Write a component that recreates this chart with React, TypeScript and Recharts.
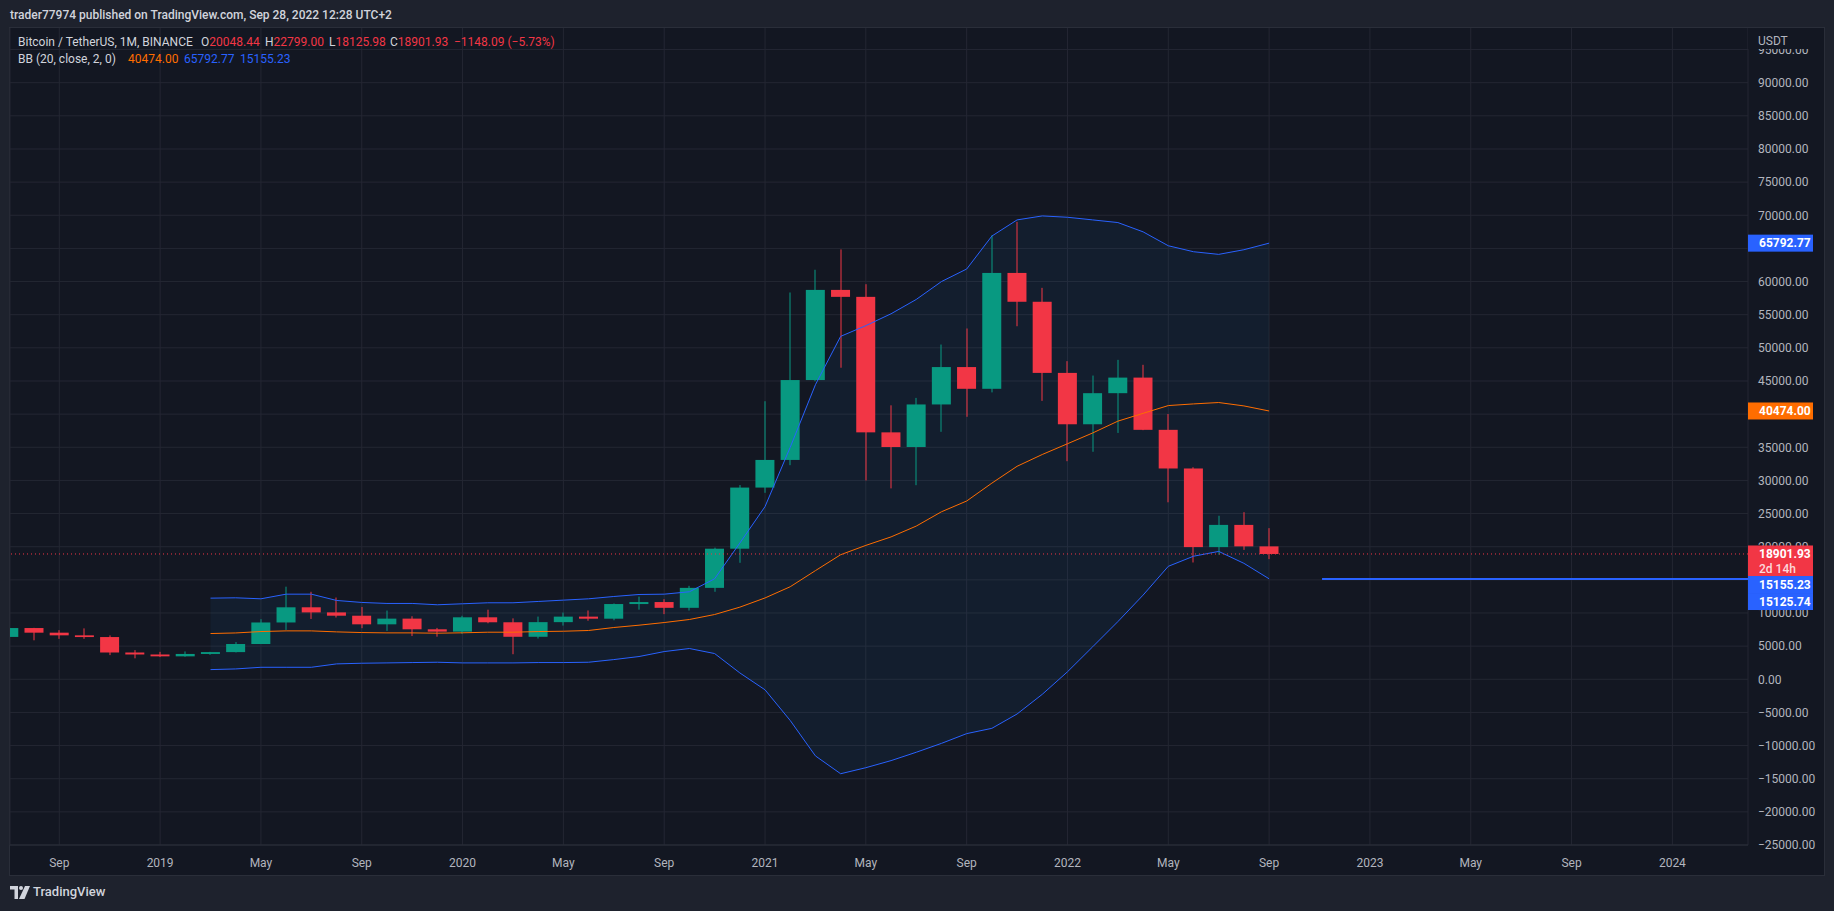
import React from 'react';
import { ComposedChart, Bar, Line, Area, XAxis, YAxis, CartesianGrid, ReferenceLine } from 'recharts';

// monthly BTCUSDT candles, Jul 2018 .. Sep 2022 (index 0 = Jul 2018)
const opens = [
  6390, 7730, 7030, 6630, 6370, 4040, 3740, 3460, 3820, 4100,
  5320, 8570, 10860, 10090, 9590, 8290, 9150, 7540, 7190, 9350,
  8600, 6410, 8620, 9450, 9140, 11350, 11650, 10780, 13790, 19700,
  28920, 33090, 45140, 58740, 57690, 37250, 35040, 41460, 47100, 43820,
  61300, 56950, 46220, 38470, 43160, 45510, 37630, 31800, 19940, 23290,
  20048.44,
];
const highs = [
  8490, 7760, 7410, 7680, 6620, 4400, 4140, 4200, 4140, 5620,
  9070, 13970, 13200, 12330, 10910, 10370, 9510, 7750, 9580, 10500,
  9190, 9460, 10070, 10380, 11440, 12470, 12080, 14100, 19860, 29300,
  41950, 58350, 61780, 64850, 59600, 41330, 42450, 50500, 52920, 67000,
  69000, 59050, 47990, 45820, 48190, 47440, 40020, 31990, 24670, 25210,
  22799.0,
];
const lows = [
  6130, 5880, 6100, 6100, 3650, 3160, 3350, 3400, 3690, 4050,
  5320, 7440, 9100, 9320, 7710, 7300, 6520, 6430, 6850, 8450,
  3780, 6150, 8100, 8830, 8900, 10500, 9830, 10370, 13200, 17570,
  28130, 32300, 44960, 47000, 30000, 28800, 29280, 37330, 39600, 43280,
  53260, 42000, 32900, 34320, 37160, 37580, 26700, 17620, 18780, 19520,
  18125.98,
];
const closes = [
  7730, 7030, 6630, 6370, 4040, 3740, 3460, 3820, 4100, 5320,
  8570, 10860, 10090, 9590, 8290, 9150, 7540, 7190, 9350, 8600,
  6410, 8620, 9450, 9140, 11350, 11650, 10780, 13790, 19700, 28920,
  33090, 45140, 58740, 57690, 37250, 35040, 41460, 47100, 43820, 61300,
  56950, 46220, 38470, 43160, 45510, 37630, 31800, 19940, 23290, 20050,
  18901.93,
];

// BB (20, close, 2, 0), starts at index 8 (Mar 2019)
const bbUpper = [
  null, null, null, null, null, null, null, null, 12240, 12290,
  12140, 12840, 12840, 11890, 11590, 11440, 11440, 11240, 11390, 11540,
  11540, 11740, 11940, 12140, 12490, 12790, 12840, 13200, 15160, 20550,
  26050, 35000, 44440, 51730, 53350, 55140, 57300, 60000, 61890, 66860,
  69300, 69900, 69700, 69300, 68900, 67500, 65400, 64500, 64100, 64800,
  65792.77,
];
const bbBasis = [
  null, null, null, null, null, null, null, null, 6900, 6990,
  7200, 7300, 7300, 7150, 7050, 7000, 7000, 6950, 7010, 7100,
  7100, 7200, 7250, 7360, 7810, 8160, 8560, 9020, 9770, 10880,
  12270, 13960, 16390, 18790, 20200, 21480, 23110, 25270, 26890, 29590,
  32130, 33910, 35530, 37160, 38940, 40120, 41290, 41540, 41750, 41240,
  40474.0,
];
const bbLower = [
  null, null, null, null, null, null, null, null, 1460, 1560,
  1810, 1810, 1810, 2320, 2420, 2470, 2520, 2570, 2470, 2470,
  2470, 2520, 2520, 2570, 2970, 3430, 4180, 4640, 3880, 960,
  -1590, -6220, -11560, -14250, -13340, -12270, -11010, -9670, -8200, -7400,
  -5240, -2270, 1130, 4900, 8700, 12700, 17040, 18560, 19290, 17490,
  15155.23,
];

const xTickIdx = [2, 6, 10, 14, 18, 22, 26, 30, 34, 38, 42, 46, 50, 54, 58, 62, 66];
const xTickLabels = ['Sep', '2019', 'May', 'Sep', '2020', 'May', 'Sep', '2021', 'May', 'Sep', '2022', 'May', 'Sep', '2023', 'May', 'Sep', '2024'];
const yTicks = [
  -25000, -20000, -15000, -10000, -5000, 0, 5000, 10000, 15000, 20000, 25000, 30000,
  35000, 40000, 45000, 50000, 55000, 60000, 65000, 70000, 75000, 80000, 85000, 90000, 95000,
];
// scale labels that sit completely under a price tag
const hiddenTicks = [15000, 40000, 65000];

const lastPrice = 18901.93;
const rayLevel = 15125.74;
const rayStart = 52.1;

// price-scale tags: value, text, second line, colour, vertical nudge (collision)
const tagValues = [65792.77, 40474.0, 18901.93, 15155.23, 15125.74];
const tagTexts = ['65792.77', '40474.00', '18901.93', '15155.23', '15125.74'];
const tagSubs = ['', '', '2d 14h', '', ''];
const tagColors = ['#2962ff', '#ff6d00', '#f23645', '#2962ff', '#2962ff'];
const tagShift = [0, 0, 0, 5.7, 22.5];

const GREEN = '#089981';
const RED = '#f23645';
const BLUE = '#2962ff';
const ORANGE = '#ff6d00';
const TXT = '#b2b5be';
const LEG = '#d1d4dc';

const data = closes.map((c, i) => ({
  i,
  open: opens[i],
  high: highs[i],
  low: lows[i],
  close: c,
  upper: bbUpper[i],
  basis: bbBasis[i],
  lower: bbLower[i],
}));

const fmtPrice = (v: number) => (v < 0 ? '\u2212' + Math.abs(v).toFixed(2) : v.toFixed(2));

const Candle = (props: any) => {
  const { x, y, width, height, payload } = props;
  if (!payload || payload.high == null) return null;
  const { open, close, high, low } = payload;
  const color = close >= open ? GREEN : RED;
  const top0 = Math.min(y, y + height);
  const h = Math.abs(height);
  const k = h / (high - low || 1);
  const bodyTop = top0 + (high - Math.max(open, close)) * k;
  const bodyBot = top0 + (high - Math.min(open, close)) * k;
  const cx = Math.round(x + width / 2);
  return (
    <g>
      <rect x={cx - 0.5} y={top0} width={1} height={h} fill={color} />
      <rect x={x} y={bodyTop} width={width} height={Math.max(1, bodyBot - bodyTop)} fill={color} />
    </g>
  );
};

// price scale ticks; the tag values come last in the tick list so they paint over the labels
const PriceTick = (props: any) => {
  const { x, y, payload, index } = props;
  const v = payload?.value;
  const k = index >= yTicks.length ? tagValues.indexOf(v) : -1;
  if (k < 0) {
    if (hiddenTicks.includes(v)) return null;
    return (
      <text x={x} y={y} dy="0.355em" textAnchor="start" fill={TXT} fontSize={12} fontFamily="Roboto, sans-serif">
        {fmtPrice(v)}
      </text>
    );
  }
  const left = x - 10;
  const cy = y + tagShift[k];
  const sub = tagSubs[k];
  return (
    <g>
      <rect x={left} y={cy - 8.5} width={65} height={sub ? 31 : 17} fill={tagColors[k]} />
      <text x={left + 11} y={cy} dy="0.35em" fill="#ffffff" fontSize={12} fontWeight={700} fontFamily="Roboto, sans-serif">
        {tagTexts[k]}
      </text>
      {sub && (
        <text x={left + 11} y={cy + 14.5} dy="0.35em" fill="rgba(255,255,255,0.82)" fontSize={12} fontWeight={500} fontFamily="Roboto, sans-serif">
          {sub}
        </text>
      )}
    </g>
  );
};

const legendLine1 = [
  { left: 18, size: 12, parts: [{ t: 'Bitcoin / TetherUS, 1M, BINANCE', c: LEG }] },
  { left: 201, size: 12, parts: [{ t: 'O', c: LEG }, { t: '20048.44', c: RED }] },
  { left: 265, size: 12, parts: [{ t: 'H', c: LEG }, { t: '22799.00', c: RED }] },
  { left: 329, size: 12, parts: [{ t: 'L', c: LEG }, { t: '18125.98', c: RED }] },
  { left: 390, size: 12, parts: [{ t: 'C', c: LEG }, { t: '18901.93', c: RED }] },
  { left: 454, size: 12, parts: [{ t: '\u22121148.09 (\u22125.73%)', c: RED }] },
];
const legendLine2 = [
  { left: 18, size: 12, parts: [{ t: 'BB (20, close, 2, 0)', c: LEG }] },
  { left: 128, size: 12, parts: [{ t: '40474.00', c: ORANGE }] },
  { left: 184, size: 12, parts: [{ t: '65792.77', c: BLUE }] },
  { left: 240, size: 12, parts: [{ t: '15155.23', c: BLUE }] },
];

const LegendRow = ({ top, items }: any) => (
  <>
    {items.map((it: any, k: number) => (
      <div key={k} style={{ position: 'absolute', left: it.left, top, fontSize: it.size, lineHeight: '16px', whiteSpace: 'nowrap' }}>
        {it.parts.map((p: any, j: number) => (
          <span key={j} style={{ color: p.c }}>
            {p.t}
          </span>
        ))}
      </div>
    ))}
  </>
);

const App: React.FC = () => {
  return (
    <div
      style={{
        position: 'absolute',
        left: 0,
        top: 0,
        width: 1834,
        height: 911,
        background: '#1e222d',
        fontFamily: 'Roboto, sans-serif',
        overflow: 'hidden',
      }}
    >
      <div style={{ position: 'absolute', left: 10, top: 7, fontSize: 12, lineHeight: '16px', fontWeight: 500, color: LEG }}>
        trader77974 published on TradingView.com, Sep 28, 2022 12:28 UTC+2
      </div>

      <div
        style={{
          position: 'absolute',
          left: 9,
          top: 27,
          width: 1816,
          height: 849,
          background: '#131722',
          border: '1px solid #2a2e39',
          boxSizing: 'border-box',
        }}
      />

      <div style={{ position: 'absolute', left: 0, top: 0 }}>
        <ComposedChart width={1834} height={911} data={data} margin={{ top: 28, right: 10, bottom: 36, left: 10 }}>
          <CartesianGrid stroke="#242733" horizontalValues={yTicks} />
          <XAxis
            type="number"
            dataKey="i"
            domain={[0.044, 69]}
            allowDataOverflow
            ticks={xTickIdx}
            interval={0}
            tickFormatter={(v: number) => xTickLabels[xTickIdx.indexOf(v)] ?? ''}
            height={30}
            tickLine={false}
            tickSize={0}
            tickMargin={13}
            axisLine={{ stroke: '#2a2e39' }}
            tick={{ fill: TXT, fontSize: 12 }}
          />
          <YAxis
            orientation="right"
            type="number"
            domain={[-25000, 98250]}
            allowDataOverflow
            ticks={[...yTicks, ...tagValues]}
            interval={0}
            width={76}
            tickLine={false}
            tickSize={0}
            tickMargin={10}
            axisLine={false}
            tick={(p: any) => <PriceTick {...p} />}
          />
          <Area
            dataKey={(d: any) => (d.upper == null ? null : [d.lower, d.upper])}
            stroke="none"
            fill="#2196f3"
            fillOpacity={0.06}
            isAnimationActive={false}
          />
          <Line dataKey="upper" stroke={BLUE} strokeWidth={1} dot={false} activeDot={false} isAnimationActive={false} />
          <Line dataKey="lower" stroke={BLUE} strokeWidth={1} dot={false} activeDot={false} isAnimationActive={false} />
          <Line dataKey="basis" stroke={ORANGE} strokeWidth={1} dot={false} activeDot={false} isAnimationActive={false} />
          <Bar
            dataKey={(d: any) => [d.low, d.high]}
            barSize={19}
            shape={(p: any) => <Candle {...p} />}
            isAnimationActive={false}
          />
          <ReferenceLine y={lastPrice} stroke={RED} strokeDasharray="1 3" />
          <ReferenceLine
            segment={[
              { x: rayStart, y: rayLevel },
              { x: 69, y: rayLevel },
            ]}
            stroke={BLUE}
            strokeWidth={2}
          />
        </ComposedChart>
      </div>

      <LegendRow top={34} items={legendLine1} />
      <LegendRow top={51} items={legendLine2} />

      <div
        style={{
          position: 'absolute',
          left: 1748,
          top: 28,
          width: 75,
          height: 21,
          background: '#131722',
          color: TXT,
          fontSize: 12,
          lineHeight: '16px',
          paddingLeft: 10,
          paddingTop: 5,
          boxSizing: 'border-box',
        }}
      >
        USDT
      </div>

      <div style={{ position: 'absolute', left: 10, top: 884, display: 'flex', alignItems: 'center', color: LEG }}>
        <svg width={20} height={13} viewBox="0 0 20 13">
          <path d="M0 0h8v13H4.5V3.5H0z" fill={LEG} />
          <circle cx={11} cy={2} r={2} fill={LEG} />
          <path d="M15 0h5l-5.5 13H9z" fill={LEG} />
        </svg>
        <span style={{ marginLeft: 3, fontSize: 13, fontWeight: 500, lineHeight: '16px' }}>TradingView</span>
      </div>
    </div>
  );
};

export default App;
